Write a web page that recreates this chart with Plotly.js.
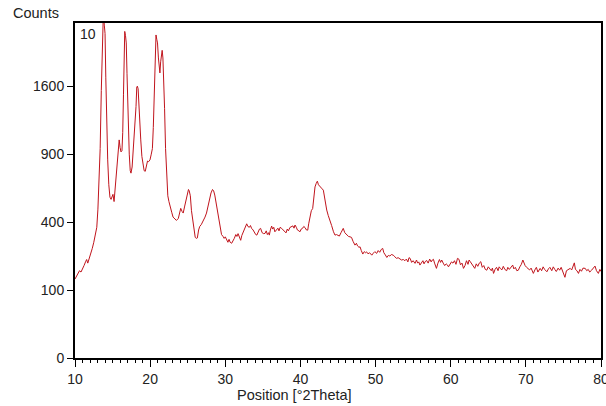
<!DOCTYPE html>
<html>
<head>
<meta charset="utf-8">
<script src="https://cdn.plot.ly/plotly-3.0.1.min.js"></script>
<style>html,body{margin:0;padding:0;background:#fff}#chart{width:606px;height:406px}</style>
</head>
<body>
<div id="chart"></div>
<script>
// 2Theta positions (degrees)
const twoTheta = [10.0,10.2,10.4,10.6,10.8,11.0,11.2,11.4,11.55,11.7,11.9,12.1,12.3,12.5,12.7,12.9,13.05,13.2,13.35,13.5,13.65,13.78,13.9,14.0,14.1,14.2,14.35,14.5,14.65,14.8,14.9,15.05,15.2,15.35,15.55,15.75,15.88,16.0,16.12,16.25,16.35,16.45,16.55,16.62,16.72,16.82,16.92,17.02,17.12,17.22,17.35,17.45,17.6,17.75,17.88,18.0,18.12,18.22,18.3,18.4,18.5,18.6,18.75,18.9,19.05,19.2,19.35,19.5,19.65,19.8,19.98,20.15,20.3,20.42,20.55,20.68,20.78,20.88,20.98,21.1,21.22,21.3,21.4,21.5,21.6,21.7,21.8,21.92,22.05,22.2,22.35,22.5,22.7,22.87,23.05,23.3,23.5,23.75,23.9,24.07,24.25,24.4,24.6,24.77,24.95,25.1,25.2,25.35,25.5,25.66,25.85,26.0,26.15,26.28,26.45,26.6,26.8,27.0,27.15,27.3,27.5,27.7,27.9,28.1,28.3,28.45,28.6,28.8,28.95,29.1,29.3,29.5,29.7,29.85,30.0,30.2,30.35,30.5,30.65,30.85,31.0,31.2,31.4,31.55,31.7,31.9,32.05,32.2,32.4,32.6,32.85,33.0,33.2,33.35,33.5,33.7,33.9,34.05,34.2,34.4,34.55,34.7,34.9,35.1,35.28,35.45,35.6,35.75,35.86,36.0,36.17,36.3,36.45,36.6,36.84,37.0,37.15,37.3,37.5,37.7,37.9,38.08,38.25,38.4,38.6,38.8,39.0,39.15,39.28,39.45,39.6,39.8,39.94,40.1,40.3,40.45,40.6,40.8,40.97,41.1,41.27,41.45,41.63,41.8,41.94,42.1,42.25,42.4,42.6,42.8,43.05,43.25,43.5,43.7,43.94,44.15,44.4,44.6,44.8,45.0,45.18,45.4,45.55,45.7,45.9,46.0,46.16,46.4,46.6,46.8,47.0,47.26,47.45,47.6,47.8,47.93,48.1,48.3,48.5,48.65,48.8,49.0,49.2,49.35,49.5,49.7,49.9,50.15,50.35,50.55,50.75,50.95,51.1,51.3,51.5,51.7,51.9,52.1,52.36,52.55,52.8,53.0,53.2,53.45,53.7,53.9,54.1,54.3,54.45,54.6,54.8,55.0,55.25,55.45,55.6,55.75,55.9,56.1,56.3,56.45,56.6,56.8,57.0,57.2,57.4,57.55,57.7,57.85,58.0,58.1,58.3,58.5,58.65,58.8,59.0,59.2,59.4,59.55,59.7,59.9,60.1,60.3,60.5,60.7,60.9,61.1,61.3,61.5,61.7,61.9,62.1,62.3,62.45,62.6,62.8,63.0,63.2,63.4,63.6,63.8,64.0,64.2,64.4,64.6,64.8,65.0,65.2,65.4,65.55,65.7,65.9,66.1,66.3,66.45,66.6,66.8,67.0,67.2,67.45,67.6,67.8,68.0,68.25,68.4,68.6,68.8,69.0,69.2,69.4,69.6,69.75,69.9,70.1,70.3,70.5,70.7,71.0,71.2,71.4,71.6,71.9,72.1,72.3,72.5,72.8,73.0,73.2,73.45,73.65,73.85,74.05,74.3,74.5,74.7,74.9,75.05,75.2,75.4,75.6,75.9,76.1,76.3,76.45,76.6,76.8,77.0,77.2,77.4,77.6,77.9,78.1,78.3,78.5,78.75,78.95,79.2,79.4,79.65,79.85,80.0];
// Intensity (counts)
const counts = [135,145,150,165,160,170,185,200,210,195,215,230,260,290,325,370,480,680,950,1550,2200,2600,2400,2280,1700,1150,850,650,560,545,560,580,530,640,770,900,1030,960,920,930,1100,1500,2100,2310,2250,2150,1750,1400,1050,900,760,740,790,920,1040,1200,1370,1590,1600,1570,1350,1200,1030,880,790,760,755,800,840,835,850,900,950,1150,1600,2050,2260,2200,2150,1950,1800,1760,1900,1980,2050,1950,1700,1350,950,660,570,530,480,460,430,415,410,422,450,485,465,455,500,540,580,615,605,570,470,410,340,315,310,312,355,375,385,400,420,430,455,500,550,590,615,605,575,510,470,420,370,330,320,310,318,300,290,305,290,285,300,310,330,320,335,310,300,325,345,365,390,375,370,380,364,355,340,330,327,350,360,364,340,335,336,350,330,340,327,355,377,360,370,345,354,365,350,370,364,355,345,339,360,350,369,375,378,365,383,370,355,350,345,360,365,375,369,355,354,390,431,470,484,580,634,660,677,650,634,625,610,540,474,440,412,380,345,327,330,325,322,340,355,364,340,335,327,320,318,315,295,276,285,272,265,268,250,234,245,240,244,235,240,232,229,238,245,237,250,242,255,260,240,230,219,228,225,232,229,222,215,218,212,208,210,205,212,200,218,215,198,205,194,208,195,200,187,196,205,192,201,206,195,212,200,208,211,195,180,174,195,210,198,208,195,185,192,188,180,192,200,195,205,190,215,211,188,195,174,185,205,190,208,201,190,180,174,192,182,195,201,178,185,170,167,180,172,165,175,155,170,178,165,180,174,168,182,170,165,178,170,180,187,172,178,165,167,180,190,208,192,185,178,174,168,175,155,168,178,160,174,165,180,170,161,172,178,165,180,170,162,175,167,178,160,150,141,165,170,174,168,180,196,170,165,155,170,163,175,174,165,170,160,167,175,183,165,155,170,162];
// Y tick labels (square-root intensity scale)
const yTickLabels = [0, 100, 400, 900, 1600];
const xTickLabels = [10, 20, 30, 40, 50, 60, 70, 80];

const ySqrt = counts.map(v => Math.sqrt(v));
const yTickVals = yTickLabels.map(v => Math.sqrt(v));

const fam = '"Liberation Sans", Arial, sans-serif';
const tickFont = {family: fam, size: 14, color: '#222'};
const titleFont = {family: fam, size: 14.5, color: '#222'};

const trace = {
  x: twoTheta, y: ySqrt, type: 'scatter', mode: 'lines',
  line: {color: '#c0141c', width: 1}, hoverinfo: 'skip'
};

const layout = {
  width: 606, height: 406,
  margin: {l: 75, r: 5, t: 23, b: 48},
  paper_bgcolor: '#fff', plot_bgcolor: '#fff',
  showlegend: false,
  font: tickFont,
  xaxis: {
    range: [10, 80], tickvals: xTickLabels, ticktext: xTickLabels.map(String),
    ticks: 'outside', ticklen: 7, tickwidth: 1, tickcolor: '#000',
    showline: true, linecolor: '#000', linewidth: 2, mirror: true,
    showgrid: false, zeroline: false, ticklabeloverflow: 'allow',
    minor: {dtick: 1, ticks: 'outside', ticklen: 3, tickcolor: '#000', tickwidth: 1, showgrid: false},
    tickfont: tickFont
  },
  yaxis: {
    range: [0, 49.3], tickvals: yTickVals, ticktext: yTickLabels.map(String),
    ticks: 'outside', ticklen: 6, tickwidth: 1, tickcolor: '#000',
    showline: true, linecolor: '#000', linewidth: 2, mirror: true,
    showgrid: false, zeroline: false,
    tickfont: tickFont
  },
  annotations: [
    {text: 'Counts', xref: 'paper', yref: 'paper', x: -0.122, y: 1.03, xanchor: 'left', yanchor: 'middle', showarrow: false, font: titleFont},
    {text: '10', xref: 'paper', yref: 'paper', x: 0.006, y: 0.998, xanchor: 'left', yanchor: 'top', showarrow: false, font: tickFont},
    {text: 'Position [°2Theta]', xref: 'paper', yref: 'paper', x: 0.418, y: -0.11, xanchor: 'center', yanchor: 'middle', showarrow: false, font: titleFont}
  ]
};

Plotly.newPlot('chart', [trace], layout, {displayModeBar: false, staticPlot: true});
</script>
</body>
</html>
